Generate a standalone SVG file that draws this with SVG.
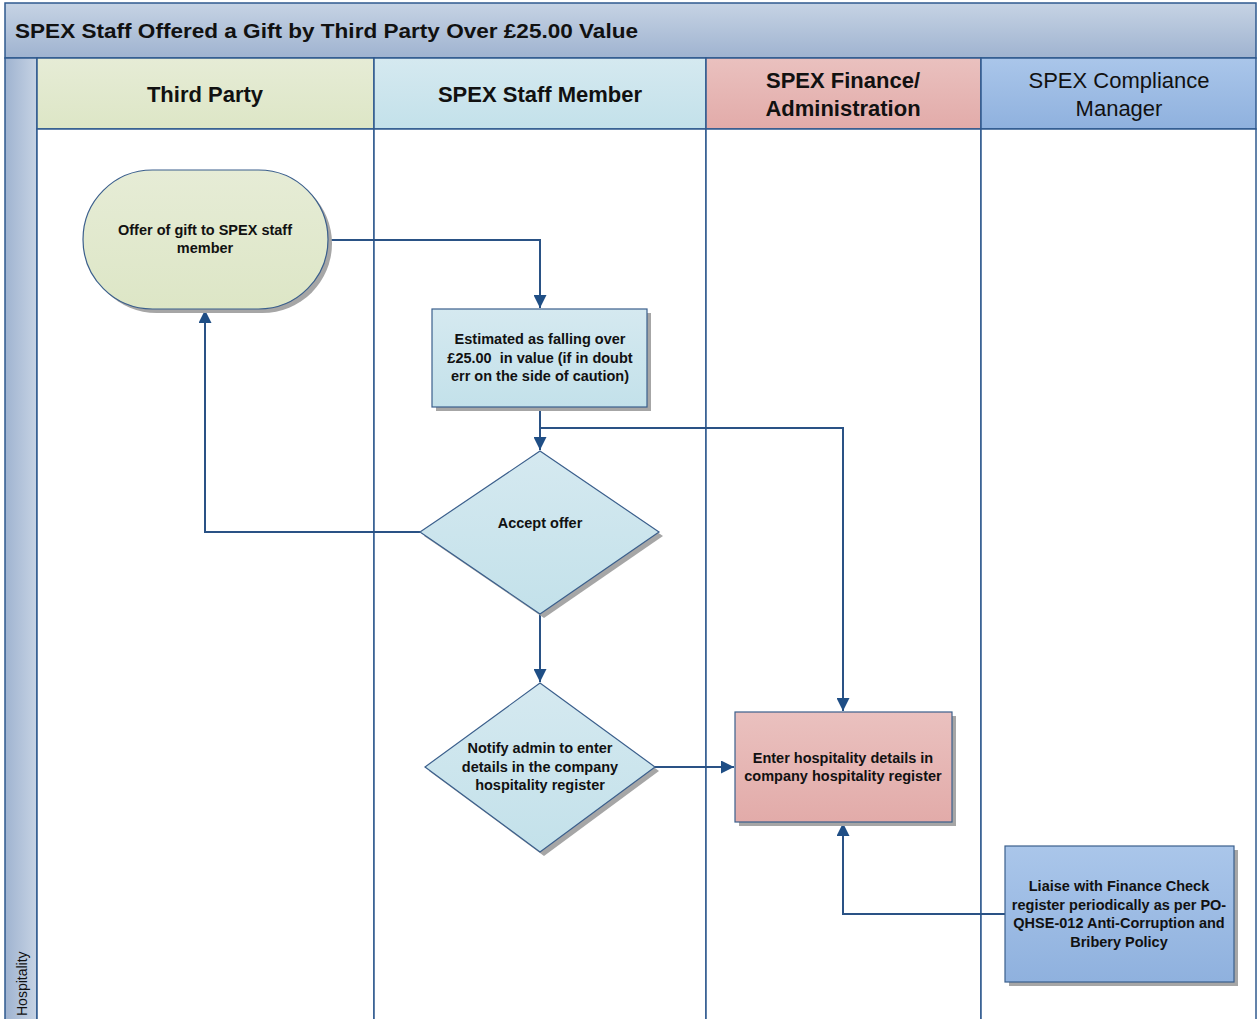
<svg xmlns="http://www.w3.org/2000/svg" width="1258" height="1019" viewBox="0 0 1258 1019">
<defs>
<linearGradient id="gTitle" x1="0" y1="0" x2="0" y2="1"><stop offset="0" stop-color="#c6d3e4"/><stop offset="1" stop-color="#9fb3d0"/></linearGradient>
<linearGradient id="gSide" x1="0" y1="0" x2="1" y2="0"><stop offset="0" stop-color="#9fb3d0"/><stop offset="1" stop-color="#c6d3e4"/></linearGradient>
<linearGradient id="gGreen" x1="0" y1="0" x2="0" y2="1"><stop offset="0" stop-color="#e6ecd6"/><stop offset="1" stop-color="#dde6c6"/></linearGradient>
<linearGradient id="gLblue" x1="0" y1="0" x2="0" y2="1"><stop offset="0" stop-color="#d5e9f0"/><stop offset="1" stop-color="#c3e1ea"/></linearGradient>
<linearGradient id="gPink" x1="0" y1="0" x2="0" y2="1"><stop offset="0" stop-color="#eac1bf"/><stop offset="1" stop-color="#e2aba9"/></linearGradient>
<linearGradient id="gBlue" x1="0" y1="0" x2="0" y2="1"><stop offset="0" stop-color="#aac6ea"/><stop offset="1" stop-color="#8fb1de"/></linearGradient>
<marker id="arr" viewBox="0 0 10 10" refX="10" refY="5" markerWidth="6.5" markerHeight="6.5" markerUnits="strokeWidth" orient="auto"><path d="M0,0 L10,5 L0,10 z" fill="#1f4e85"/></marker>
</defs>
<style>
.lane{stroke:#2f5a8f;stroke-width:1.5}
.node{stroke:#3b5f8c;stroke-width:1.2}
.sh{fill:#a6a6a6}
.t{font-family:"Liberation Sans",Arial,sans-serif;font-weight:bold;font-size:14.5px;fill:#111;text-anchor:middle}
.h{font-family:"Liberation Sans",Arial,sans-serif;font-size:22px;fill:#111;text-anchor:middle}
.conn{fill:none;stroke:#2a5285;stroke-width:2;marker-end:url(#arr)}
</style>
<rect x="0" y="0" width="1258" height="1019" fill="#ffffff"/>
<g id="pool">
<rect x="5" y="3" width="1251" height="55" fill="url(#gTitle)" class="lane"/>
<text x="15" y="38" font-family="'Liberation Sans',Arial,sans-serif" font-weight="bold" font-size="20px" fill="#111" textLength="623" lengthAdjust="spacingAndGlyphs">SPEX Staff Offered a Gift by Third Party Over £25.00 Value</text>
<rect x="5" y="58" width="32" height="965" fill="url(#gSide)" class="lane"/>
<text transform="translate(27,1016) rotate(-90)" font-family="'Liberation Sans',Arial,sans-serif" font-size="14px" fill="#111">Hospitality</text>
</g>
<g id="lane-third-party">
<rect x="37" y="58" width="337" height="71" fill="url(#gGreen)" class="lane"/>
<rect x="37" y="129" width="337" height="894" fill="#fff" class="lane"/>
<text x="205" y="102" class="h" font-weight="bold">Third Party</text>
</g>
<g id="lane-staff">
<rect x="374" y="58" width="332" height="71" fill="url(#gLblue)" class="lane"/>
<rect x="374" y="129" width="332" height="894" fill="#fff" class="lane"/>
<text x="540" y="102" class="h" font-weight="bold">SPEX Staff Member</text>
</g>
<g id="lane-finance">
<rect x="706" y="58" width="275" height="71" fill="url(#gPink)" class="lane"/>
<rect x="706" y="129" width="275" height="894" fill="#fff" class="lane"/>
<text x="843" y="88" class="h" font-weight="bold">SPEX Finance/</text>
<text x="843" y="116" class="h" font-weight="bold">Administration</text>
</g>
<g id="lane-compliance">
<rect x="981" y="58" width="275" height="71" fill="url(#gBlue)" class="lane"/>
<rect x="981" y="129" width="275" height="894" fill="#fff" class="lane"/>
<text x="1119" y="88" class="h">SPEX Compliance</text>
<text x="1119" y="116" class="h">Manager</text>
</g>
<g id="connectors">
<path class="conn" d="M328,240 H540 V308"/>
<path class="conn" d="M540,407 V450"/>
<path class="conn" d="M540,428 H843 V711"/>
<path class="conn" d="M420,532 H205 V310"/>
<path class="conn" d="M540,614 V682"/>
<path class="conn" d="M655,767 H734"/>
<path class="conn" d="M1005,914 H843 V823"/>
</g>
<g id="node-offer">
<rect x="87" y="174" width="245" height="139" rx="69.5" class="sh"/>
<rect x="83" y="170" width="245" height="139" rx="69.5" fill="url(#gGreen)" class="node"/>
<text x="205" y="235" class="t">Offer of gift to SPEX staff</text>
<text x="205" y="253" class="t">member</text>
</g>
<g id="node-estimate">
<rect x="436" y="313" width="215" height="98" class="sh"/>
<rect x="432" y="309" width="215" height="98" fill="url(#gLblue)" class="node"/>
<text x="540" y="344" class="t">Estimated as falling over</text>
<text x="540" y="363" class="t" xml:space="preserve">£25.00  in value (if in doubt</text>
<text x="540" y="381" class="t">err on the side of caution)</text>
</g>
<g id="node-accept">
<polygon points="544,455 663,536 544,618 424,536" class="sh"/>
<polygon points="540,451 659,532 540,614 420,532" fill="url(#gLblue)" class="node"/>
<text x="540" y="528" class="t">Accept offer</text>
</g>
<g id="node-notify">
<polygon points="544,687 659,771 544,856 429,771" class="sh"/>
<polygon points="540,683 655,767 540,852 425,767" fill="url(#gLblue)" class="node"/>
<text x="540" y="753" class="t">Notify admin to enter</text>
<text x="540" y="772" class="t">details in the company</text>
<text x="540" y="790" class="t">hospitality register</text>
</g>
<g id="node-enter">
<rect x="739" y="716" width="217" height="110" class="sh"/>
<rect x="735" y="712" width="217" height="110" fill="url(#gPink)" class="node"/>
<text x="843" y="763" class="t">Enter hospitality details in</text>
<text x="843" y="781" class="t">company hospitality register</text>
</g>
<g id="node-liaise">
<rect x="1009" y="850" width="229" height="136" class="sh"/>
<rect x="1005" y="846" width="229" height="136" fill="url(#gBlue)" class="node"/>
<text x="1119" y="891" class="t">Liaise with Finance Check</text>
<text x="1119" y="910" class="t">register periodically as per PO-</text>
<text x="1119" y="928" class="t">QHSE-012 Anti-Corruption and</text>
<text x="1119" y="947" class="t">Bribery Policy</text>
</g>
</svg>
